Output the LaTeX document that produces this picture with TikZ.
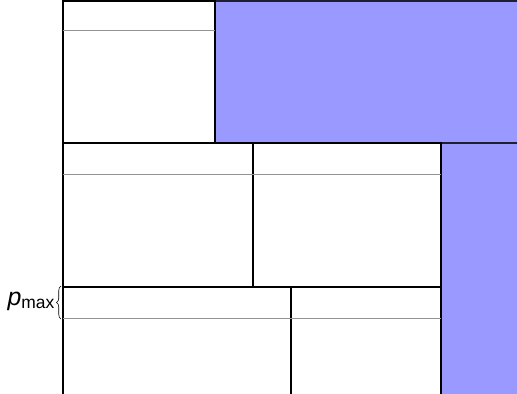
\documentclass[tikz,border=0pt]{standalone}
\usepackage{fontspec}
\setsansfont{Liberation Sans}
\usetikzlibrary{decorations.pathreplacing}
\definecolor{used}{HTML}{9999FF}

\tikzset{
  cell/.style={draw=black, line width=1.3pt},
  header/.style={draw=gray!85, line width=0.9pt},
  usedblock/.style={fill=used, draw=black!80!used, line width=1.3pt}
}

\begin{document}
\begin{tikzpicture}[x=1bp, y=-1bp]
\useasboundingbox (0,0) rectangle (517,393);
\clip (0,0) rectangle (517,393);

% --- Used space (blue) ---
\filldraw[usedblock] (215,1) rectangle (519,143);
\filldraw[usedblock] (441,143) rectangle (519,400);

% --- Top row ---
\draw[cell] (63,1) rectangle (215,143);
\draw[header] (63,30) -- (215,30);

% --- Middle row ---
\draw[cell] (63,143) rectangle (253,287);
\draw[cell] (253,143) rectangle (441,287);
\draw[header] (63,174) -- (441,174);

% --- Bottom row (runs past the lower edge) ---
\draw[cell] (63,287) rectangle (291,400);
\draw[cell] (291,287) rectangle (441,400);
\draw[header] (63,318) -- (441,318);

% Page header size
\coordinate (hlo) at (61,319);
\coordinate (hhi) at (61,286);
\draw[decorate, decoration={brace, amplitude=4.5pt}, line width=0.6pt] (hlo) -- (hhi);
\node[anchor=east, font=\sffamily\fontsize{25}{28}\selectfont, inner sep=1pt] (pmax) at (56,301)
  {\textit{p}\textsubscript{max}};
\end{tikzpicture}
\end{document}
